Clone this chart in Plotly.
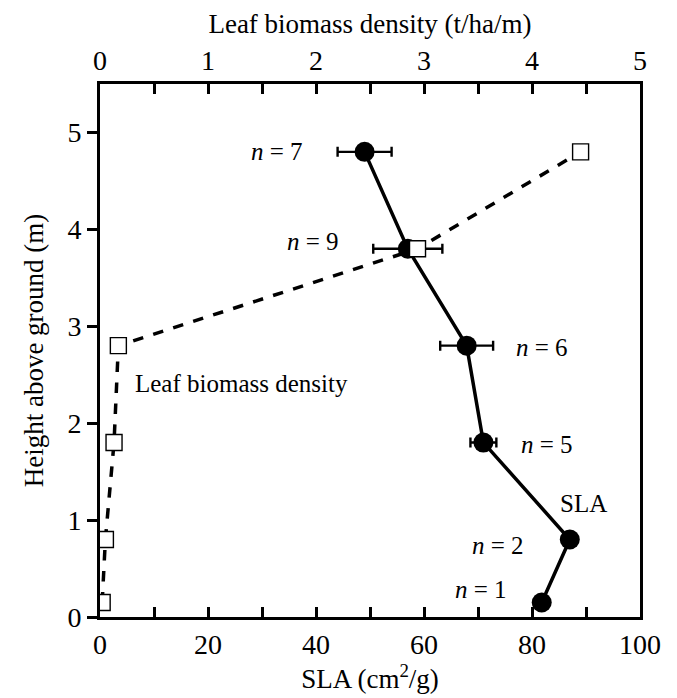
import plotly.graph_objects as go

# Data
height = [0.15, 0.8, 1.8, 2.8, 3.8, 4.8]
sla = [81.8, 87.0, 71.0, 67.9, 57.0, 49.0]
sla_err = [0, 0, 2.4, 4.9, 6.4, 5.0]
n_labels = ["1", "2", "5", "6", "9", "7"]
leaf_density = [0.02, 0.05, 0.13, 0.17, 2.94, 4.45]

FONT = "Times New Roman, Liberation Serif, serif"
TICK_FS = 28
TITLE_FS = 27
ANN_FS = 25

fig = go.Figure()

fig.add_trace(go.Scatter(
    x=sla, y=height, mode="lines+markers",
    line=dict(color="black", width=3.5),
    marker=dict(symbol="circle", size=20, color="black"),
    error_x=dict(type="data", array=sla_err, visible=True, color="black", thickness=2.4, width=5),
    xaxis="x", yaxis="y", showlegend=False,
))

fig.add_trace(go.Scatter(
    x=leaf_density, y=height, mode="lines+markers",
    line=dict(color="black", width=3.5, dash="dash"),
    marker=dict(symbol="square", size=16, color="white", line=dict(color="black", width=1.4)),
    xaxis="x2", yaxis="y", showlegend=False,
))

# n labels positions (x in SLA units, y in metres)
label_pos = {
    "7": (27.5, 4.8),
    "9": (34.2, 3.87),
    "6": (76.6, 2.78),
    "5": (77.6, 1.78),
    "2": (68.6, 0.74),
    "1": (65.3, 0.28),
}
for k in n_labels:
    lx, ly = label_pos[k]
    fig.add_annotation(x=lx, y=ly, xref="x", yref="y", text=f"<i>n</i> = {k}",
                       showarrow=False, xanchor="left", yanchor="middle",
                       font=dict(family=FONT, size=ANN_FS, color="black"))

fig.add_annotation(x=84.8, y=1.17, xref="x", yref="y", text="SLA", showarrow=False,
                   xanchor="left", yanchor="middle", font=dict(family=FONT, size=ANN_FS, color="black"))
fig.add_annotation(x=6.1, y=2.41, xref="x", yref="y", text="Leaf biomass density", showarrow=False,
                   xanchor="left", yanchor="middle", font=dict(family=FONT, size=ANN_FS, color="black"))

bottom_vals = list(range(0, 101, 10))
bottom_text = [str(v) if v % 20 == 0 else "" for v in bottom_vals]
top_vals = [i * 0.5 for i in range(11)]
top_text = [str(int(v)) if v == int(v) else "" for v in top_vals]

fig.update_layout(
    width=677, height=698,
    margin=dict(l=100, r=37, t=84, b=81),
    plot_bgcolor="white", paper_bgcolor="white",
    font=dict(family=FONT, size=TICK_FS, color="black"),
    xaxis=dict(
        range=[0, 100], tickvals=bottom_vals, ticktext=bottom_text,
        ticks="inside", ticklen=10, tickwidth=3, tickcolor="black",
        showline=True, linewidth=3, linecolor="black", showgrid=False, zeroline=False,
        automargin=False,
        title=dict(text="SLA (cm<sup>2</sup>/g)", standoff=2, font=dict(family=FONT, size=TITLE_FS)),
        tickfont=dict(family=FONT, size=TICK_FS),
    ),
    xaxis2=dict(
        range=[0, 5], overlaying="x", side="top", anchor="y",
        tickvals=top_vals, ticktext=top_text,
        ticks="inside", ticklen=10, tickwidth=3, tickcolor="black",
        showline=True, linewidth=3, linecolor="black", showgrid=False, zeroline=False,
        automargin=False,
        title=dict(text="Leaf biomass density (t/ha/m)", standoff=4, font=dict(family=FONT, size=TITLE_FS)),
        tickfont=dict(family=FONT, size=TICK_FS),
    ),
    yaxis=dict(
        range=[0, 5.5], tickvals=[0, 1, 2, 3, 4, 5],
        ticks="outside", ticklen=10, tickwidth=3, tickcolor="black",
        showline=True, linewidth=3, linecolor="black", mirror=True,
        showgrid=False, zeroline=False, automargin=False,
        title=dict(text="Height above ground (m)", standoff=16, font=dict(family=FONT, size=TITLE_FS)),
        tickfont=dict(family=FONT, size=TICK_FS),
    ),
)

fig.write_html("out.html")
